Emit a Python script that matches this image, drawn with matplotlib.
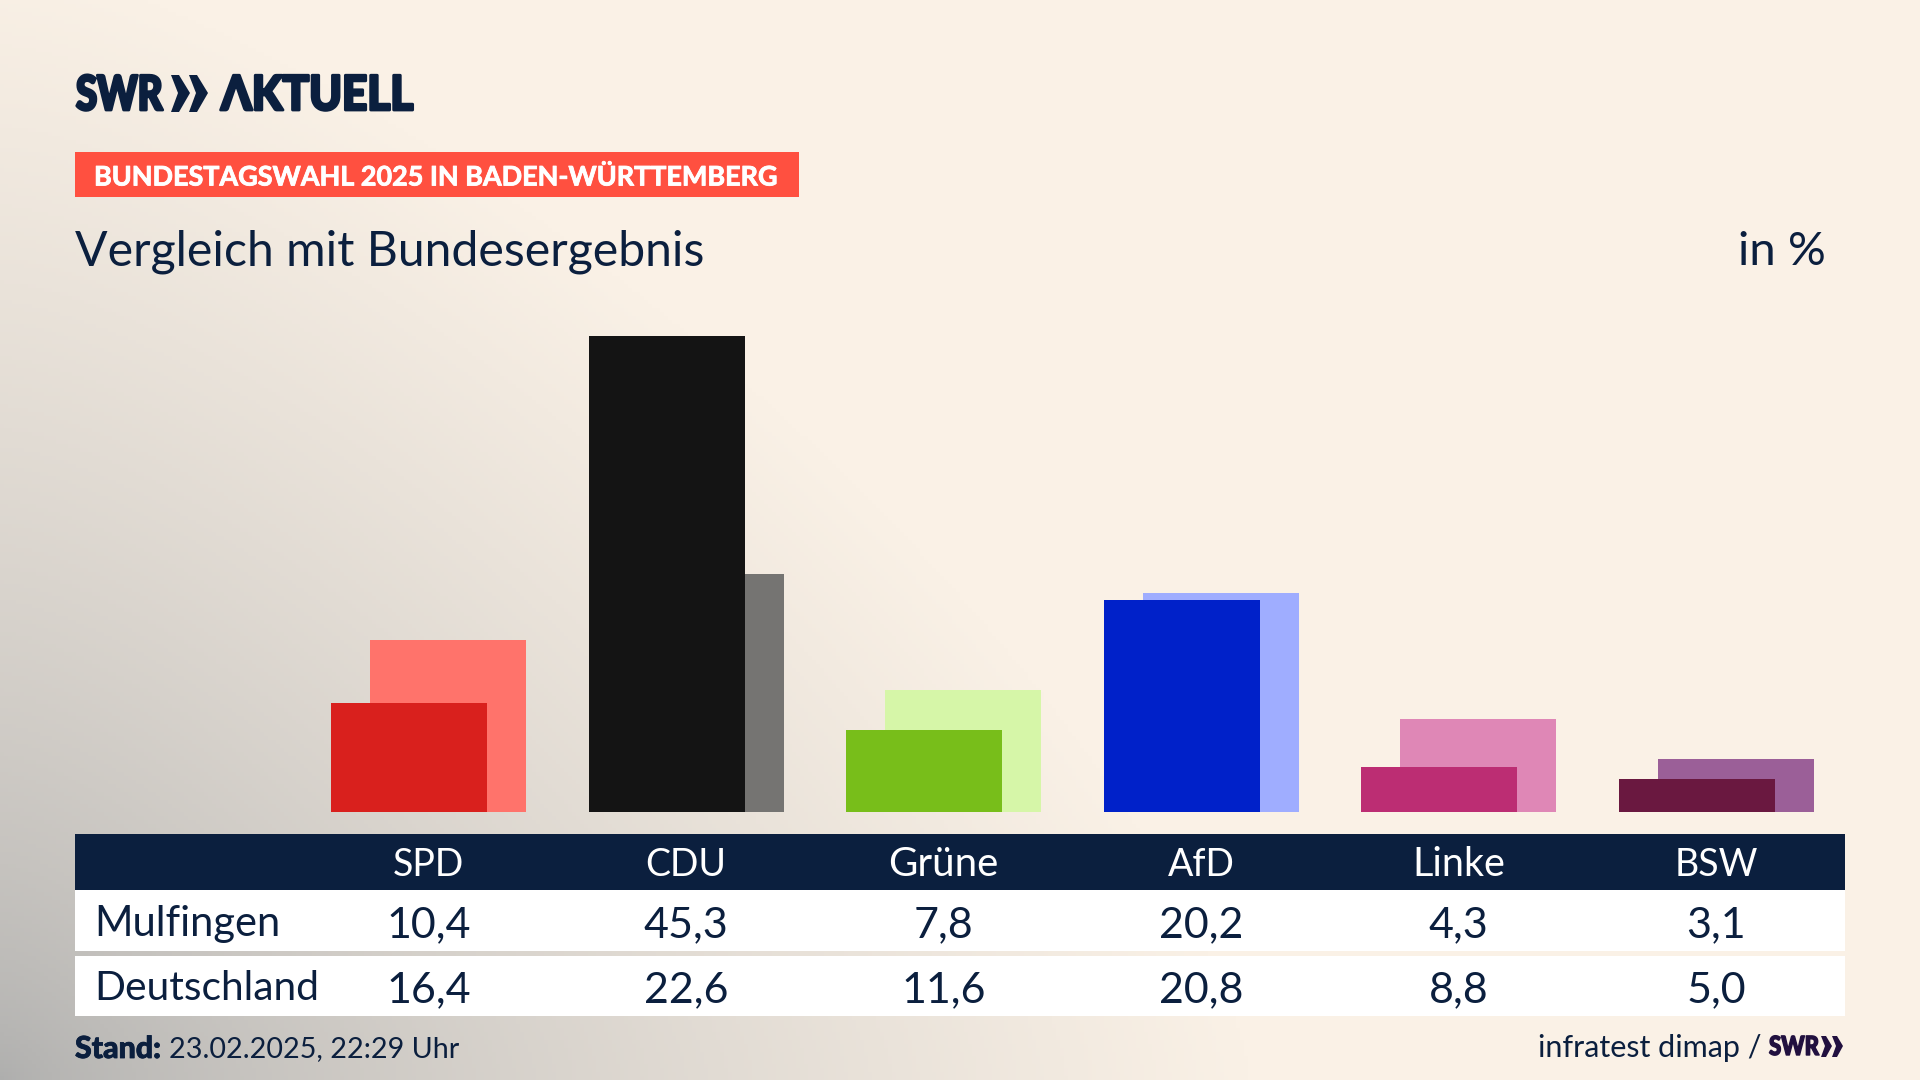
import numpy as np
import matplotlib
matplotlib.use('Agg')
import matplotlib.pyplot as plt
import matplotlib.patheffects as pe
from matplotlib.colors import to_rgb
from matplotlib.patches import Rectangle, Polygon
from matplotlib.transforms import Affine2D

parties = ['SPD', 'CDU', 'Grüne', 'AfD', 'Linke', 'BSW']
mulfingen = [10.4, 45.3, 7.8, 20.2, 4.3, 3.1]
deutschland = [16.4, 22.6, 11.6, 20.8, 8.8, 5.0]
colors_front = ['#D9201D', '#141414', '#78BE1A', '#0021C9', '#BC2D73', '#6A1840']
colors_back = ['#FF736B', '#757472', '#D6F6A8', '#9FADFF', '#DF87B6', '#9B5F98']

NAVY = '#0B1F3E'
FONT = 'Lato'


class Squeeze(pe.AbstractPathEffect):
    # the logo lettering is narrower and heavier than any installed font
    def __init__(self, sx, lw, color):
        super().__init__()
        self.sx = sx
        self.lw = lw
        self.color = color

    def draw_path(self, renderer, gc, tpath, affine, rgbFace=None):
        gc0 = renderer.new_gc()
        gc0.copy_properties(gc)
        gc0.set_linewidth(self.lw)
        gc0.set_foreground(self.color)
        renderer.draw_path(gc0, tpath, Affine2D().scale(self.sx, 1) + affine, rgbFace)
        gc0.restore()


def chevrons(x_list, top, mid, bottom, flat, notch, tip, color):
    for x0 in x_list:
        bg.add_patch(Polygon([(x0, top), (x0 + flat, top), (x0 + tip, mid), (x0 + flat, bottom),
                              (x0, bottom), (x0 + notch, mid)], closed=True, color=color, lw=0))


W, H = 1920, 1080
fig = plt.figure(figsize=(W / 100, H / 100), dpi=100)

# pixel coordinate layer for background, table and texts
bg = fig.add_axes([0, 0, 1, 1])
bg.axis('off')

# background: grey glow from the bottom left corner into cream
yy, xx = np.mgrid[0:H:270j, 0:W:480j]
d = ((xx / 1250) ** 1.4 + ((H - yy) / 1120) ** 1.4) ** (1 / 1.4)
t = np.clip(d, 0, 1) ** 0.7
grey = np.array(to_rgb('#AEAEAD'))
cream = np.array(to_rgb('#FAF1E6'))
img = grey + (cream - grey) * t[..., None]
bg.imshow(img, extent=[0, W, H, 0], aspect='auto', zorder=0)
bg.set_xlim(0, W)
bg.set_ylim(H, 0)

# logo
bg.text(76, 96, 'SWR', fontsize=34.5, fontweight='black', family=FONT, color=NAVY,
        va='center', ha='left', path_effects=[Squeeze(0.80, 2.0, NAVY)])
chevrons((171, 189), 75, 93, 112, 8, 7, 19, NAVY)
bg.text(221, 96, 'ΛKTUELL', fontsize=34.5, fontweight='black', family=FONT, color=NAVY,
        va='center', ha='left', path_effects=[Squeeze(0.92, 2.0, NAVY)])

# red tag
bg.add_patch(Rectangle((75, 152), 724, 45, color='#FF5040', lw=0))
bg.text(94, 177, 'BUNDESTAGSWAHL 2025 IN BADEN-WÜRTTEMBERG', fontsize=19.4, fontweight='bold',
        family=FONT, color='white', va='center', ha='left',
        path_effects=[pe.withStroke(linewidth=0.6, foreground='white')])

bg.text(75, 252, 'Vergleich mit Bundesergebnis', fontsize=34.7, family=FONT, color=NAVY,
        va='center', ha='left')
bg.text(1826, 252, 'in %', fontsize=34, family=FONT, color=NAVY, va='center', ha='right')

# table
bg.add_patch(Rectangle((75, 834), 1770, 56, color=NAVY, lw=0))
bg.add_patch(Rectangle((75, 890), 1770, 61, color='white', lw=0))
bg.add_patch(Rectangle((75, 956), 1770, 60, color='white', lw=0))

# bars, own axes so the heights come from the values
px_unit = 10.515
base_px = 812
top_px = 290
col0 = 428.6
col_step = 257.5
ax_l, ax_r = 75, 1845
ax = fig.add_axes([ax_l / W, 1 - base_px / H, (ax_r - ax_l) / W, (base_px - top_px) / H])
ax.patch.set_alpha(0)
ax.axis('off')
ax.set_xlim((ax_l - col0) / col_step, (ax_r - col0) / col_step)
ax.set_ylim(0, (base_px - top_px) / px_unit)
pos = np.arange(len(parties))
ax.bar(pos + 0.076, deutschland, width=0.606, color=colors_back, lw=0)
ax.bar(pos - 0.076, mulfingen, width=0.606, color=colors_front, lw=0)

header_sizes = [27, 27, 29, 27, 28.5, 27]
mulf_labels = [f'{v:.1f}'.replace('.', ',') for v in mulfingen]
de_labels = [f'{v:.1f}'.replace('.', ',') for v in deutschland]
for i in range(len(parties)):
    xc = col0 + col_step * i
    bg.text(xc, 865, parties[i], fontsize=header_sizes[i], family=FONT, color='white', va='center', ha='center')
    bg.text(xc, 925, mulf_labels[i], fontsize=31, family=FONT, color=NAVY, va='center', ha='center')
    bg.text(xc, 990, de_labels[i], fontsize=31, family=FONT, color=NAVY, va='center', ha='center')

bg.text(94, 924, 'Mulfingen', fontsize=30, family=FONT, color=NAVY, va='center', ha='left')
bg.text(94, 989, 'Deutschland', fontsize=29.3, family=FONT, color=NAVY, va='center', ha='left')

# footer
bg.text(75, 1049, 'Stand:', fontsize=21.8, fontweight='black', family=FONT, color=NAVY,
        va='center', ha='left', path_effects=[pe.withStroke(linewidth=0.6, foreground=NAVY)])
bg.text(169, 1049, '23.02.2025, 22:29 Uhr', fontsize=20.7, family=FONT, color=NAVY,
        va='center', ha='left')
bg.text(1762, 1048, 'infratest dimap /', fontsize=22, family=FONT, color=NAVY,
        va='center', ha='right')
bg.text(1769, 1047, 'SWR', fontsize=19, fontweight='black', family=FONT, color='#21103F',
        va='center', ha='left', path_effects=[Squeeze(0.84, 1.0, '#21103F')])
chevrons((1821, 1832), 1036, 1046, 1057, 5, 4, 11, '#21103F')

fig.savefig('out.png', dpi=100)
